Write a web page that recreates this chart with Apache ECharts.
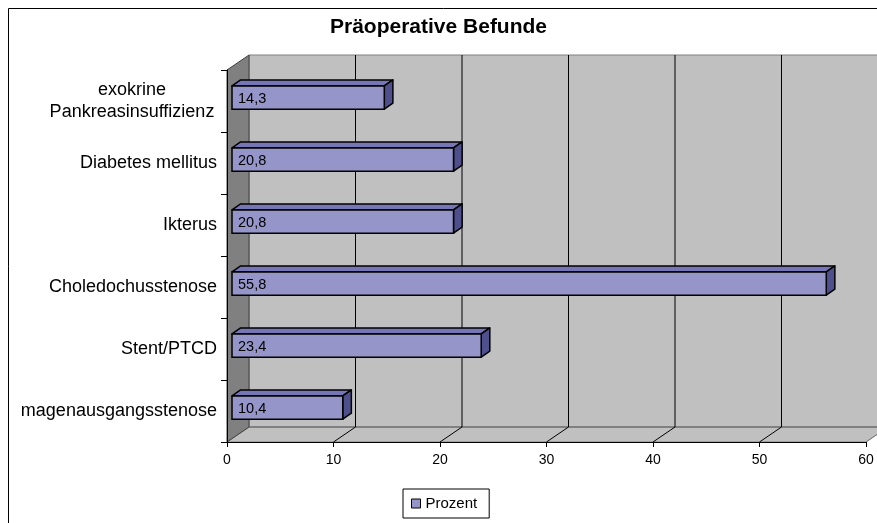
<!DOCTYPE html>
<html>
<head>
<meta charset="utf-8">
<script src="https://cdn.jsdelivr.net/npm/echarts@6/dist/echarts.min.js"></script>
<style>
html,body{margin:0;padding:0;background:#fff;}
#chart{width:877px;height:523px;}
</style>
</head>
<body>
<div id="chart"></div>
<script>
const categories = ['exokrine\nPankreasinsuffizienz', 'Diabetes mellitus', 'Ikterus', 'Choledochusstenose', 'Stent/PTCD', 'magenausgangsstenose'];
const prozent = [14.3, 20.8, 20.8, 55.8, 23.4, 10.4];
const xTicks = [0, 10, 20, 30, 40, 50, 60];
const seriesName = 'Prozent';
const chartTitle = 'Präoperative Befunde';

const FONT = '"Liberation Sans", Arial, sans-serif';
const DEPTH = [22, -15];          // wall depth offset (px)
const BAR_FRONT = [5, -3.5];      // bar front plane offset
const BAR_DEPTH = [8.6, -5.9];    // bar thickness offset

const chart = echarts.init(document.getElementById('chart'), null, {renderer: 'canvas'});

function wallsRender(params, api) {
  const cs = params.coordSys;
  const x = cs.x, y = cs.y, w = cs.width, h = cs.height;
  const dx = DEPTH[0], dy = DEPTH[1];
  const children = [];
  children.push({type: 'polygon', shape: {points: [[x + dx, y + dy], [x + w + dx, y + dy], [x + w + dx, y + h + dy], [x + dx, y + h + dy]]},
    style: {fill: '#C0C0C0', stroke: '#808080', lineWidth: 1}});
  children.push({type: 'polygon', shape: {points: [[x, y + h], [x + w, y + h], [x + w + dx, y + h + dy], [x + dx, y + h + dy]]},
    style: {fill: '#C0C0C0', stroke: '#808080', lineWidth: 1}});
  children.push({type: 'line', shape: {x1: x + dx, y1: y + h + dy, x2: x + w + dx, y2: y + h + dy}, style: {stroke: '#808080', lineWidth: 2}});
  children.push({type: 'polygon', shape: {points: [[x, y], [x + dx, y + dy], [x + dx, y + h + dy], [x, y + h]]},
    style: {fill: '#808080', stroke: '#404040', lineWidth: 1}});
  xTicks.forEach(function (t, i) {
    if (i === 0) return;
    const cx = api.coord([t, 0])[0];
    const last = i === xTicks.length - 1;
    children.push({type: 'line', shape: {x1: cx, y1: y + h, x2: cx + dx, y2: y + h + dy},
      style: {stroke: last ? '#808080' : '#000', lineWidth: 1}});
    if (!last) {
      children.push({type: 'line', shape: {x1: cx + dx, y1: y + dy, x2: cx + dx, y2: y + h + dy},
        style: {stroke: '#000', lineWidth: 1}});
    }
  });
  return {type: 'group', children: children};
}

function barRender(params, api) {
  const idx = api.value(1);
  const v = api.value(0);
  const p0 = api.coord([0, idx]);
  const p1 = api.coord([v, idx]);
  const band = api.size([0, 1])[1];
  const h = band * 0.375;
  const dx = BAR_DEPTH[0], dy = BAR_DEPTH[1];
  const x0 = p0[0] + BAR_FRONT[0], x1 = p1[0] + BAR_FRONT[0];
  const yT = p0[1] + BAR_FRONT[1] - h / 2, yB = yT + h;
  return {type: 'group', children: [
    {type: 'polygon', shape: {points: [[x0, yT], [x1, yT], [x1 + dx, yT + dy], [x0 + dx, yT + dy]]},
      style: {fill: '#7676B6', stroke: '#000', lineWidth: 1.5, lineJoin: 'round'}},
    {type: 'polygon', shape: {points: [[x1, yT], [x1 + dx, yT + dy], [x1 + dx, yB + dy], [x1, yB]]},
      style: {fill: '#4F4F8E', stroke: '#000', lineWidth: 1.5, lineJoin: 'round'}},
    {type: 'rect', shape: {x: x0, y: yT, width: x1 - x0, height: h},
      style: {fill: '#9595CA', stroke: '#000', lineWidth: 1.5}},
    {type: 'text', style: {text: String(v).replace('.', ','), x: x0 + 6, y: (yT + yB) / 2 + 1,
      align: 'left', verticalAlign: 'middle', fontSize: 14.5, fontFamily: FONT, fill: '#000'}}
  ]};
}

const option = {
  animation: false,
  backgroundColor: '#fff',
  title: {
    text: chartTitle,
    left: 'center',
    top: 15,
    padding: [2, 0, 2, 9],
    textStyle: {fontFamily: FONT, fontSize: 21, fontWeight: 'bold', color: '#000'}
  },
  legend: {
    data: [{name: seriesName, icon: 'rect'}],
    left: 403,
    top: 489,
    padding: [7, 12, 7, 8],
    borderColor: '#000',
    borderWidth: 1,
    itemWidth: 9,
    itemHeight: 9,
    itemStyle: {borderColor: '#000', borderWidth: 1},
    textStyle: {fontFamily: FONT, fontSize: 15, color: '#000'},
    selectedMode: false
  },
  graphic: [{
    type: 'rect', silent: true, z: -10,
    shape: {x: 8.5, y: 8.5, width: 1000, height: 1000},
    style: {fill: 'none', stroke: '#000', lineWidth: 1}
  }],
  grid: {left: 227, top: 70, width: 639, height: 372, containLabel: false},
  xAxis: {
    type: 'value', min: 0, max: 60, interval: 10,
    axisLine: {show: true, lineStyle: {color: '#000', width: 1}},
    axisTick: {show: true, length: 5, lineStyle: {color: '#000'}},
    axisLabel: {fontFamily: FONT, fontSize: 14, color: '#000', margin: 11},
    splitLine: {show: false}
  },
  yAxis: {
    type: 'category', data: categories, inverse: true,
    axisLine: {show: true, lineStyle: {color: '#000', width: 1}},
    axisTick: {show: true, length: 6, lineStyle: {color: '#000'}},
    axisLabel: {
      fontFamily: FONT, fontSize: 18, color: '#000', margin: 10, lineHeight: 22,
      formatter: function (v) {
        if (v.indexOf('\n') >= 0) {
          return v.split('\n').map(function (s) { return '{c|' + s + '}'; }).join('\n');
        }
        return v;
      },
      rich: {c: {width: 170, align: 'center', fontFamily: FONT, fontSize: 18, lineHeight: 22, color: '#000'}}
    },
    splitLine: {show: false}
  },
  series: [
    {
      type: 'custom', name: '_walls', silent: true, z: -1, clip: false,
      renderItem: wallsRender,
      data: [[0, 0]],
      encode: {x: 0, y: 1},
      tooltip: {show: false}
    },
    {
      type: 'custom', name: seriesName, z: 5, clip: false,
      itemStyle: {color: '#9595CA'},
      renderItem: barRender,
      data: prozent.map(function (v, i) { return [v, i]; }),
      encode: {x: 0, y: 1}
    }
  ]
};
chart.setOption(option);
</script>
</body>
</html>
